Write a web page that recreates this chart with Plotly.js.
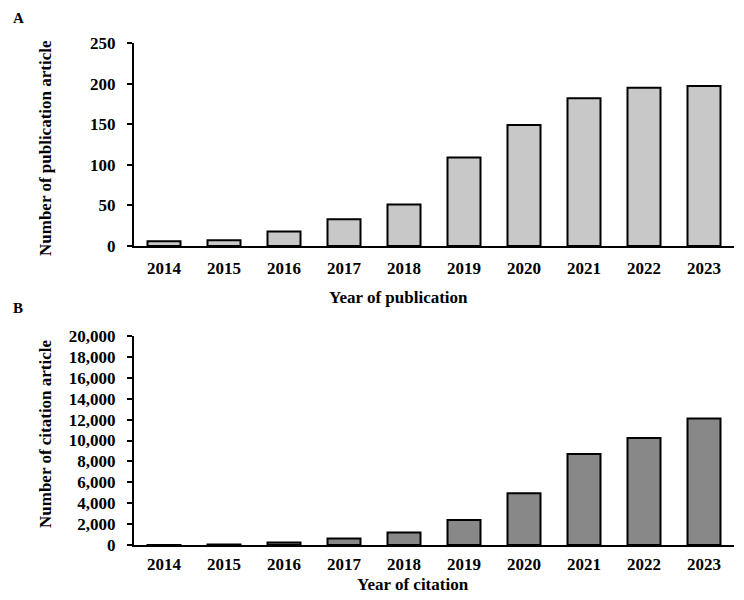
<!DOCTYPE html>
<html>
<head>
<meta charset="utf-8">
<script src="https://cdn.plot.ly/plotly-3.0.1.min.js"></script>
<style>html,body{margin:0;padding:0;background:#fff;}#chart{width:744px;height:600px;}</style>
</head>
<body>
<div id="chart"></div>
<script>
const years = ['2014','2015','2016','2017','2018','2019','2020','2021','2022','2023'];
const publications = [6, 7, 18, 33, 51, 109, 149, 182, 195, 197];
const citations = [10, 40, 250, 620, 1200, 2400, 4950, 8700, 10250, 12100];
const pubTicks = [0, 50, 100, 150, 200, 250];
const citTicks = [0, 2000, 4000, 6000, 8000, 10000, 12000, 14000, 16000, 18000, 20000];

const FONT = '"Liberation Serif", "Times New Roman", Times, serif';
const tickFont = {family: FONT, size: 17, color: '#000', weight: 'bold'};

const traces = [
  {type: 'bar', x: years, y: publications, xaxis: 'x', yaxis: 'y',
   marker: {color: '#c8c8c8', line: {color: '#000', width: 2}}, hoverinfo: 'x+y'},
  {type: 'bar', x: years, y: citations, xaxis: 'x2', yaxis: 'y2',
   marker: {color: '#888888', line: {color: '#000', width: 2}}, hoverinfo: 'x+y'}
];

const xdom = [134/744, 734/744];
const layout = {
  width: 744, height: 600,
  margin: {l: 0, r: 0, t: 0, b: 0},
  paper_bgcolor: '#fff', plot_bgcolor: '#fff',
  showlegend: false,
  bargap: 0.45,
  font: {family: FONT, color: '#000'},
  xaxis: {domain: xdom, anchor: 'y', type: 'category', showline: true, linecolor: '#000', linewidth: 2,
          ticks: '', showgrid: false, tickfont: tickFont, ticklabelstandoff: 6},
  yaxis: {domain: [1 - 246/600, 1 - 43/600], anchor: 'x', range: [0, 250], tickvals: pubTicks,
          showline: true, linecolor: '#000', linewidth: 2, ticks: 'outside', ticklen: 5, tickwidth: 2,
          tickcolor: '#000', showgrid: false, zeroline: false, tickfont: tickFont, ticklabelstandoff: 8},
  xaxis2: {domain: xdom, anchor: 'y2', type: 'category', showline: true, linecolor: '#000', linewidth: 2,
          ticks: '', showgrid: false, tickfont: tickFont, ticklabelstandoff: 3},
  yaxis2: {domain: [1 - 545/600, 1 - 336/600], anchor: 'x2', range: [0, 20000], tickvals: citTicks,
          tickformat: ',d', showline: true, linecolor: '#000', linewidth: 2, ticks: 'outside', ticklen: 5,
          tickwidth: 2, tickcolor: '#000', showgrid: false, zeroline: false, tickfont: tickFont,
          ticklabelstandoff: 8},
  annotations: [
    {text: 'A', x: 11/744, y: 1 - 18/600, xref: 'paper', yref: 'paper', xanchor: 'left', yanchor: 'middle',
     showarrow: false, font: {family: FONT, size: 15, color: '#000', weight: 'bold'}},
    {text: 'B', x: 11/744, y: 1 - 308/600, xref: 'paper', yref: 'paper', xanchor: 'left', yanchor: 'middle',
     showarrow: false, font: {family: FONT, size: 15, color: '#000', weight: 'bold'}},
    {text: 'Number of publication article', x: 45/744, y: 1 - 148/600, xref: 'paper', yref: 'paper',
     xanchor: 'center', yanchor: 'middle', textangle: -90, showarrow: false,
     font: {family: FONT, size: 17, color: '#000', weight: 'bold'}},
    {text: 'Number of citation article', x: 45/744, y: 1 - 434/600, xref: 'paper', yref: 'paper',
     xanchor: 'center', yanchor: 'middle', textangle: -90, showarrow: false,
     font: {family: FONT, size: 17, color: '#000', weight: 'bold'}},
    {text: 'Year of publication', x: 398/744, y: 1 - 297/600, xref: 'paper', yref: 'paper',
     xanchor: 'center', yanchor: 'middle', showarrow: false,
     font: {family: FONT, size: 17, color: '#000', weight: 'bold'}},
    {text: 'Year of citation', x: 413/744, y: 1 - 584/600, xref: 'paper', yref: 'paper',
     xanchor: 'center', yanchor: 'middle', showarrow: false,
     font: {family: FONT, size: 17, color: '#000', weight: 'bold'}}
  ]
};

Plotly.newPlot('chart', traces, layout, {displayModeBar: false, staticPlot: true});
</script>
</body>
</html>
